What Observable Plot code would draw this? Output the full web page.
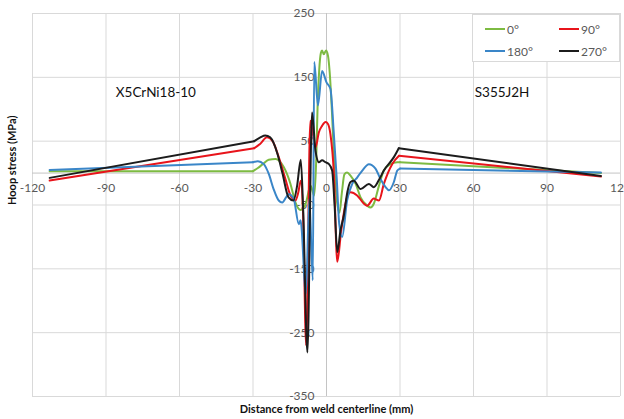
<!DOCTYPE html>
<html><head><meta charset="utf-8">
<script src="https://cdn.jsdelivr.net/npm/d3@7"></script>
<script src="https://cdn.jsdelivr.net/npm/@observablehq/plot@0.6"></script>
<style>
body{margin:0;background:#fff;}
#wrap{position:relative;width:624px;height:419px;font-family:Lato,"Open Sans",sans-serif;}
#legend{position:absolute;left:472px;top:14px;width:148px;height:48px;background:#fff;border:1px solid #d9d9d9;box-sizing:border-box;}
.item{position:absolute;display:flex;align-items:center;font-size:12px;color:#595959;height:14px;}
.sw{display:inline-block;width:20px;height:2px;margin-right:2px;}
</style></head><body><div id="wrap"></div>
<script>
// series names and colors
const seriesNames = ["0°", "90°", "180°", "270°"];
const seriesColors = ["#7dbb42", "#e8141b", "#3a86c8", "#1c1c1c"];

// 0°
const x0 = [-113,-30,-28,-26,-23.6,-20.8,-17.4,-14.7,-12.7,-10.6,-8.5,-6.5,-5,-4.2,-3.6,-3.0,-2.3,-1.8,-1.1,-0.2,0.6,1.3,2.3,3.3,4.3,5.3,6.3,7.3,8.4,9.8,11.9,13.9,16.6,18,19.3,21.4,23.4,26,28.9,30,112];
const y0 = [3,3,8,14,21,22,9,-17,-46,-58,-48,-20,-35,20,110,160,188,192,186,192,184,158,90,5,-45,-62,-30,-2,1,-4,-17,-38,-51,-54,-48,-20,4,14,17,17,0];
// 90°
const x90 = [-113,-29.5,-27,-24.3,-22,-19.5,-16.8,-14.7,-12.7,-11.5,-10.5,-9.6,-8.3,-6.6,-5.5,-4.5,-3.1,-1.8,-0.4,0.6,1.6,3,4.4,6,8.4,9.8,12.5,15.3,16.6,19.3,21.4,23.4,26.8,29.6,112];
const y90 = [-11.7,39,46,56,50,25,-9,-35,-43,-30,-12,-60,-270,82,60,40,64,74,80,77,61,0,-139,-90,-38,-30,-35,-48,-51,-40,-43,-17,14,27,-5.5];
// 180°
const x180 = [-113,-30,-28,-25.6,-23.6,-21.6,-19.5,-18.1,-15.4,-13.4,-11.3,-10.6,-8.4,-7,-5.6,-5.0,-3.5,-1.8,0,1.6,3,4.2,5.2,6.4,8.4,10.5,12.5,14.6,17.3,20,22,24.1,25.5,27.5,28.9,30,112];
const y180 = [5,17,18.5,14,-1,-25,-43,-46,-33,-40,-80,-74,-189,-40,-168,174,106,160,142,132,61,-10,-80,-100,-43,-17,-7,4,14,7,-9,-22,-27,-14,4,7,1];
// 270°
const x270 = [-113,-29.5,-27,-25,-23,-20,-18,-15.5,-13.5,-12,-10.5,-9.5,-7.8,-5.9,-4.5,-3.1,-1.8,-0.4,1,2.3,3.3,4.4,5.7,7.1,8.5,9.8,11.2,13.9,17.3,19.3,21.5,23.4,27.5,29.5,112];
const y270 = [-7.5,50,56,59,56,30,0,-38,-43,-20,21,-60,-281,95,35,17,20,17,14,4,-50,-124,-90,-66,-30,-14,-12,-25,-17,-22,-10,4,25,39,-4.5];

// axis ticks
const xTicks = [-120,-90,-60,-30,0,30,60,90,120];
const yTicks = [250,150,50,-50,-150,-250,-350];

// annotations
const annLabels = ["X5CrNi18-10", "S355J2H"];
const annX = [-86, 60.5];
const annY = [126, 126];

const xs = [x0, x90, x180, x270], ys = [y0, y90, y180, y270];
// straight outer segments (first two and last two points) and smooth core
const outer = [], core = [];
seriesNames.forEach((name, i) => {
  const n = xs[i].length;
  xs[i].forEach((x, j) => {
    const p = {series: name, x, y: ys[i][j]};
    if (j >= 1 && j <= n - 2) core.push(p);
    if (j <= 1) outer.push({...p, seg: name + "L"});
    if (j >= n - 2) outer.push({...p, seg: name + "R"});
  });
});
const anns = annLabels.map((label, i) => ({label, x: annX[i], y: annY[i]}));

const marks = [
  Plot.ruleX(xTicks, {stroke: "#d9d9d9", strokeWidth: 1}),
  Plot.ruleY(yTicks, {stroke: "#d9d9d9", strokeWidth: 1}),
  Plot.ruleX([0], {stroke: "#c4c4c4", strokeWidth: 1}),
  Plot.ruleY([0], {stroke: "#c4c4c4", strokeWidth: 1}),
  Plot.text(xTicks, {x: d => d, y: 0, dy: 15, text: d => String(d), fill: "#595959", fontSize: 12}),
  Plot.text(yTicks, {x: 0, y: d => d, dx: -12, textAnchor: "end", text: d => String(d), fill: "#595959", fontSize: 12})
];
seriesNames.forEach(name => {
  marks.push(Plot.line(outer.filter(d => d.series === name), {x: "x", y: "y", z: "seg", stroke: "series", strokeWidth: 2, curve: "linear"}));
  marks.push(Plot.line(core.filter(d => d.series === name), {x: "x", y: "y", stroke: "series", strokeWidth: 2, curve: "monotone-x"}));
});
marks.push(
  Plot.text(anns, {x: "x", y: "y", text: "label", textAnchor: "start", fill: "#111", fontSize: 13.5}),
  Plot.text(["Hoop stress (MPa)"], {frameAnchor: "left", rotate: -90, dx: -20, fontWeight: "bold", fontSize: 11, fill: "#111"}),
  Plot.text(["Distance from weld centerline (mm)"], {frameAnchor: "bottom", dy: 16, fontWeight: "bold", fontSize: 11, fill: "#111"})
);

const chart = Plot.plot({
  width: 624, height: 419,
  marginLeft: 32, marginRight: 4, marginTop: 13, marginBottom: 23,
  x: {domain: [-120, 120], axis: null},
  y: {domain: [-350, 250], axis: null},
  color: {domain: seriesNames, range: seriesColors},
  style: {fontFamily: "Lato, 'Open Sans', sans-serif", background: "#fff", overflow: "visible"},
  marks
});
const wrap = document.getElementById("wrap");
wrap.appendChild(chart);

// legend
const legend = document.createElement("div");
legend.id = "legend";
seriesNames.forEach((name, i) => {
  const it = document.createElement("div");
  it.className = "item";
  it.style.left = (i % 2 === 0 ? 12 : 86) + "px";
  it.style.top = (i < 2 ? 7 : 29) + "px";
  it.innerHTML = `<span class="sw" style="background:${seriesColors[i]}"></span>${name}`;
  legend.appendChild(it);
});
wrap.appendChild(legend);
</script>
</body></html>
